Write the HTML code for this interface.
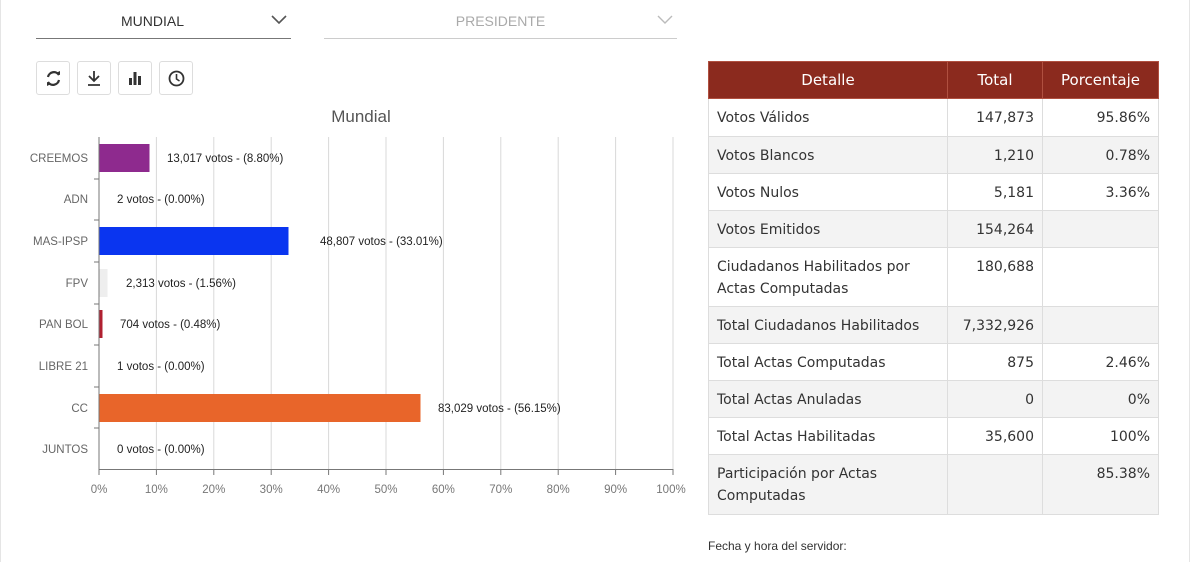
<!DOCTYPE html>
<html><head><meta charset="utf-8"><style>
body{margin:0;width:1194px;height:562px;background:#fff;position:relative;overflow:hidden;font-family:"Liberation Sans",sans-serif;}
.abs{position:absolute}
.dd{position:absolute;top:0;height:38px;font-size:14px;text-align:center;line-height:42px}
.btn{position:absolute;top:61px;width:34px;height:34px;border:1px solid #ddd;border-radius:3px;box-sizing:border-box;background:#fff}
table{position:absolute;left:708px;top:61px;border-collapse:collapse;font-family:"DejaVu Sans",sans-serif;font-size:14px;color:#333;table-layout:fixed;width:450px}
td,th{border:1px solid #ddd;padding:0 8px;vertical-align:top;line-height:22px;overflow:hidden}
th{background:#8b2a1e;color:#fff;font-weight:normal;text-align:center;height:36px;vertical-align:middle;border-color:#b05040;font-size:15px}
td{padding-top:8px;height:29px;box-sizing:border-box}
tr:nth-child(odd) td{background:#f3f3f3}
.r{text-align:right}
</style></head><body>
<div class="abs" style="left:0;top:0;width:1px;height:562px;background:#e5e5e5"></div>
<div class="abs" style="left:1189px;top:0;width:1px;height:562px;background:#e5e5e5"></div>
<div class="dd" style="left:36px;width:255px;border-bottom:1px solid #777;color:#333"><span style="margin-right:22px">MUNDIAL</span><svg class="abs" style="right:4px;top:15px" width="16" height="10"><path d="M1 1l7 7 7-7" stroke="#555" stroke-width="1.6" fill="none"/></svg></div>
<div class="dd" style="left:324px;width:353px;border-bottom:1px solid #ccc;color:#aaa"><span>PRESIDENTE</span><svg class="abs" style="right:4px;top:15px" width="16" height="10"><path d="M1 1l7 7 7-7" stroke="#bbb" stroke-width="1.4" fill="none"/></svg></div>
<div class="btn" style="left:36px"><svg width="33" height="33"><path d="M11 15a6 6 0 0 1 11-2M22 18a6 6 0 0 1-11 2" stroke="#333" stroke-width="2.2" fill="none"/><path d="M19 11l4 2 0-4zM14 22l-4-2 0 4z" fill="#333"/></svg></div>
<div class="btn" style="left:77px"><svg width="33" height="33"><path d="M16 9v10M11 14l5 5 5-5M10 23h12" stroke="#333" stroke-width="1.8" fill="none"/></svg></div>
<div class="btn" style="left:118px"><svg width="33" height="33"><rect x="10" y="16" width="3" height="7" fill="#333"/><rect x="14.5" y="10" width="3" height="13" fill="#333"/><rect x="19" y="14" width="3" height="9" fill="#333"/></svg></div>
<div class="btn" style="left:159px"><svg width="33" height="33"><circle cx="16.5" cy="16.5" r="7" stroke="#333" stroke-width="1.8" fill="none"/><path d="M16.5 12v5l3 2" stroke="#333" stroke-width="1.6" fill="none"/></svg></div>
<svg class="abs" style="left:0;top:0" width="700" height="562" font-family="Liberation Sans,sans-serif">
<text x="361" y="122" font-size="17" fill="#555" text-anchor="middle">Mundial</text>
<g stroke="#d8d8d8">
<line x1="156.4" y1="137" x2="156.4" y2="469"/><line x1="213.8" y1="137" x2="213.8" y2="469"/><line x1="271.2" y1="137" x2="271.2" y2="469"/><line x1="328.6" y1="137" x2="328.6" y2="469"/><line x1="386" y1="137" x2="386" y2="469"/><line x1="443.4" y1="137" x2="443.4" y2="469"/><line x1="500.8" y1="137" x2="500.8" y2="469"/><line x1="558.2" y1="137" x2="558.2" y2="469"/><line x1="615.6" y1="137" x2="615.6" y2="469"/><line x1="673" y1="137" x2="673" y2="469"/>
</g>
<g stroke="#777"><line x1="99" y1="137" x2="99" y2="470"/><line x1="99" y1="469.5" x2="673" y2="469.5"/>
<line x1="94" y1="179" x2="99" y2="179"/><line x1="94" y1="220" x2="99" y2="220"/><line x1="94" y1="262" x2="99" y2="262"/><line x1="94" y1="304" x2="99" y2="304"/><line x1="94" y1="345" x2="99" y2="345"/><line x1="94" y1="387" x2="99" y2="387"/><line x1="94" y1="428" x2="99" y2="428"/>
<line x1="99" y1="469" x2="99" y2="475"/><line x1="156.4" y1="469" x2="156.4" y2="475"/><line x1="213.8" y1="469" x2="213.8" y2="475"/><line x1="271.2" y1="469" x2="271.2" y2="475"/><line x1="328.6" y1="469" x2="328.6" y2="475"/><line x1="386" y1="469" x2="386" y2="475"/><line x1="443.4" y1="469" x2="443.4" y2="475"/><line x1="500.8" y1="469" x2="500.8" y2="475"/><line x1="558.2" y1="469" x2="558.2" y2="475"/><line x1="615.6" y1="469" x2="615.6" y2="475"/><line x1="673" y1="469" x2="673" y2="475"/></g>
<rect x="99.5" y="144" width="50" height="28" fill="#8e2a8e"/>
<rect x="99.5" y="227" width="189" height="28" fill="#0a35f0"/>
<rect x="99.5" y="269" width="8" height="28" fill="#eee"/>
<rect x="99.5" y="310" width="3" height="28" fill="#b02030"/>
<rect x="99.5" y="394" width="321" height="28" fill="#e8652a"/>
<g font-size="11.5" fill="#666" text-anchor="end">
<text x="88" y="162">CREEMOS</text><text x="88" y="203">ADN</text><text x="88" y="245">MAS-IPSP</text><text x="88" y="287">FPV</text><text x="88" y="328">PAN BOL</text><text x="88" y="370">LIBRE 21</text><text x="88" y="412">CC</text><text x="88" y="453">JUNTOS</text></g>
<g font-size="11.5" fill="#222">
<text x="167" y="162">13,017 votos - (8.80%)</text><text x="117" y="203">2 votos - (0.00%)</text><text x="320" y="245">48,807 votos - (33.01%)</text><text x="126" y="287">2,313 votos - (1.56%)</text><text x="120" y="328">704 votos - (0.48%)</text><text x="117" y="370">1 votos - (0.00%)</text><text x="438" y="412">83,029 votos - (56.15%)</text><text x="117" y="453">0 votos - (0.00%)</text></g>
<g font-size="11.5" fill="#777" text-anchor="middle">
<text x="99" y="493">0%</text><text x="156.4" y="493">10%</text><text x="213.8" y="493">20%</text><text x="271.2" y="493">30%</text><text x="328.6" y="493">40%</text><text x="386" y="493">50%</text><text x="443.4" y="493">60%</text><text x="500.8" y="493">70%</text><text x="558.2" y="493">80%</text><text x="615.6" y="493">90%</text><text x="671" y="493">100%</text></g>
</svg>
<table>
<colgroup><col style="width:239px"><col style="width:95px"><col style="width:116px"></colgroup>
<tr><th>Detalle</th><th>Total</th><th>Porcentaje</th></tr>
<tr><td style="height:38px;background:#fff">Votos Válidos</td><td class="r" style="background:#fff">147,873</td><td class="r" style="background:#fff">95.86%</td></tr>
<tr><td style="height:37px">Votos Blancos</td><td class="r">1,210</td><td class="r">0.78%</td></tr>
<tr><td style="height:37px;background:#fff">Votos Nulos</td><td class="r" style="background:#fff">5,181</td><td class="r" style="background:#fff">3.36%</td></tr>
<tr><td style="height:37px">Votos Emitidos</td><td class="r">154,264</td><td class="r"></td></tr>
<tr><td style="height:59px;background:#fff">Ciudadanos Habilitados por Actas Computadas</td><td class="r" style="background:#fff">180,688</td><td style="background:#fff"></td></tr>
<tr><td style="height:37px">Total Ciudadanos Habilitados</td><td class="r">7,332,926</td><td></td></tr>
<tr><td style="height:37px;background:#fff">Total Actas Computadas</td><td class="r" style="background:#fff">875</td><td class="r" style="background:#fff">2.46%</td></tr>
<tr><td style="height:37px">Total Actas Anuladas</td><td class="r">0</td><td class="r">0%</td></tr>
<tr><td style="height:37px;background:#fff">Total Actas Habilitadas</td><td class="r" style="background:#fff">35,600</td><td class="r" style="background:#fff">100%</td></tr>
<tr><td style="height:60px">Participación por Actas Computadas</td><td></td><td class="r">85.38%</td></tr>
</table>
<div class="abs" style="left:708px;top:539px;font-size:12px;color:#333">Fecha y hora del servidor:</div>
</body></html>
